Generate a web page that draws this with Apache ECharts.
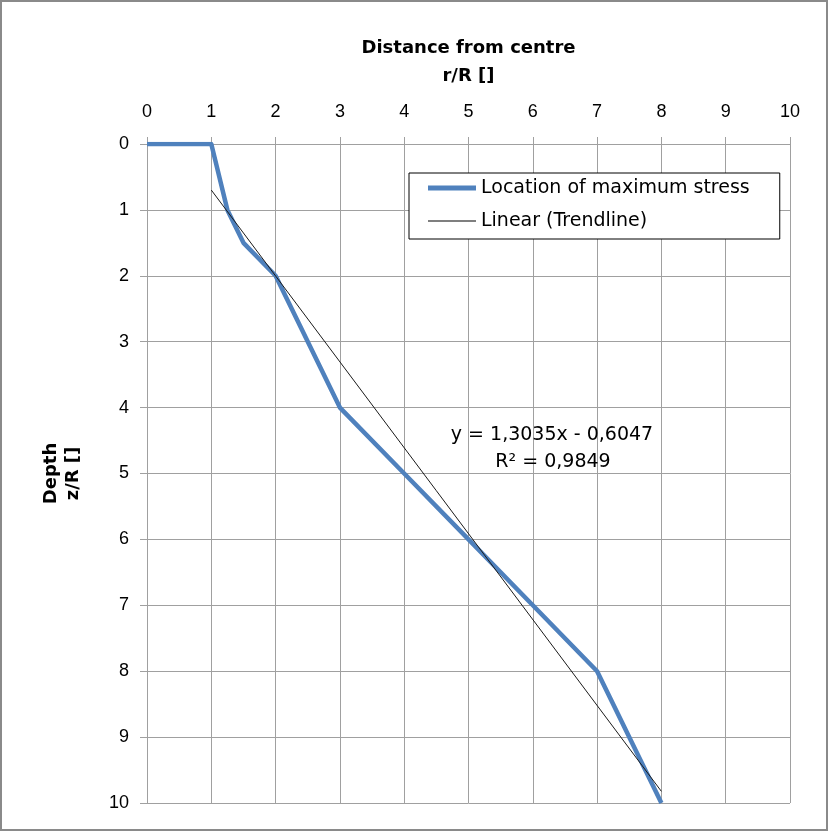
<!DOCTYPE html>
<html>
<head>
<meta charset="utf-8">
<script src="https://cdn.jsdelivr.net/npm/echarts@6/dist/echarts.min.js"></script>
<style>
  html, body { margin: 0; padding: 0; background: #fff; }
  #chart { width: 829px; height: 832px; }
</style>
</head>
<body>
<div id="chart"></div>
<script>
// Radial distance (r/R) and depth (z/R) of the maximum-stress location
const distance = [0, 1, 1.25, 1.5, 2, 3, 4, 5, 6, 7, 8];
const depth    = [0, 0, 1,    1.5, 2, 4, 5, 6, 7, 8, 10];

// Linear trendline as reported: y = 1,3035x - 0,6047 (R² = 0,9849), over r/R 1..8
const trendSlope = 1.3035;
const trendIntercept = -0.6047;
const trendRange = [1, 8];
const equationText = 'y = 1,3035x - 0,6047';
const r2Text = 'R² = 0,9849';

const xTicks = [0, 1, 2, 3, 4, 5, 6, 7, 8, 9, 10];
const yTicks = [0, 1, 2, 3, 4, 5, 6, 7, 8, 9, 10];

const seriesNames = ['Location of maximum stress', 'Linear (Trendline)'];

const FONT = 'Liberation Sans';
const WIDE = 'DejaVu Sans';
const GRID = '#a0a0a0';
const BLUE = '#4F81BD';

const stressPoints = distance.map((x, i) => [x, depth[i]]);
const trendPoints = trendRange.map(x => [x, trendSlope * x + trendIntercept]);

const chart = echarts.init(document.getElementById('chart'), null, { renderer: 'canvas' });

chart.setOption({
  backgroundColor: '#fff',
  animation: false,
  textStyle: { fontFamily: FONT },
  grid: { left: 147, top: 144, right: 39, bottom: 29, containLabel: false },
  legend: {
    data: [
      { name: seriesNames[0], icon: 'path://M0,0h50v5h-50z' },
      { name: seriesNames[1], icon: 'path://M0,0h50v1.3h-50z', itemStyle: { color: '#000' } }
    ],
    orient: 'vertical',
    left: 409,
    top: 173,
    padding: [5, 30, 8, 19],
    itemGap: 13,
    itemWidth: 48,
    itemHeight: 14,
    backgroundColor: '#fff',
    borderColor: '#000',
    borderWidth: 1,
    borderRadius: 0,
    textStyle: { fontFamily: WIDE, fontSize: 19, color: '#000', lineHeight: 20 }
  },
  xAxis: {
    type: 'value',
    position: 'top',
    min: xTicks[0],
    max: xTicks[xTicks.length - 1],
    interval: 1,
    name: 'Distance from centre\nr/R []',
    nameLocation: 'middle',
    nameGap: 54,
    nameTextStyle: { fontFamily: WIDE, fontWeight: 'bold', fontSize: 18, color: '#000', lineHeight: 28 },
    axisLine: { show: true, lineStyle: { color: GRID, width: 1 } },
    axisTick: { show: true, length: 7, lineStyle: { color: GRID } },
    axisLabel: { fontFamily: FONT, fontSize: 18, color: '#000', margin: 23 },
    splitLine: { show: true, lineStyle: { color: GRID, width: 1 } }
  },
  yAxis: {
    type: 'value',
    inverse: true,
    min: yTicks[0],
    max: yTicks[yTicks.length - 1],
    interval: 1,
    name: 'Depth\nz/R []',
    nameLocation: 'middle',
    nameGap: 63,
    nameRotate: 90,
    nameTextStyle: { fontFamily: WIDE, fontWeight: 'bold', fontSize: 18, color: '#000', lineHeight: 22 },
    axisLine: { show: true, lineStyle: { color: GRID, width: 1 } },
    axisTick: { show: true, length: 7, lineStyle: { color: GRID } },
    axisLabel: { fontFamily: FONT, fontSize: 18, color: '#000', margin: 18 },
    splitLine: { show: true, lineStyle: { color: GRID, width: 1 } }
  },
  series: [
    {
      name: seriesNames[0],
      type: 'line',
      data: stressPoints,
      showSymbol: false,
      symbol: 'none',
      lineStyle: { color: BLUE, width: 4.5, join: 'round' },
      itemStyle: { color: BLUE },
      z: 3
    },
    {
      name: seriesNames[1],
      type: 'line',
      data: trendPoints,
      showSymbol: false,
      symbol: 'none',
      lineStyle: { color: '#1a1a1a', width: 1 },
      itemStyle: { color: '#1a1a1a' },
      z: 4
    }
  ],
  graphic: [
    {
      type: 'rect',
      shape: { x: 1, y: 1, width: 826, height: 829 },
      style: { fill: 'none', stroke: '#8a8a8a', lineWidth: 2 },
      silent: true
    },
    {
      type: 'text',
      x: 552, y: 435,
      style: { text: equationText, font: '19px "DejaVu Sans"', fill: '#000', align: 'center', verticalAlign: 'middle' },
      z: 10
    },
    {
      type: 'text',
      x: 553, y: 462,
      style: { text: r2Text, font: '19px "DejaVu Sans"', fill: '#000', align: 'center', verticalAlign: 'middle' },
      z: 10
    }
  ]
});
</script>
</body>
</html>
